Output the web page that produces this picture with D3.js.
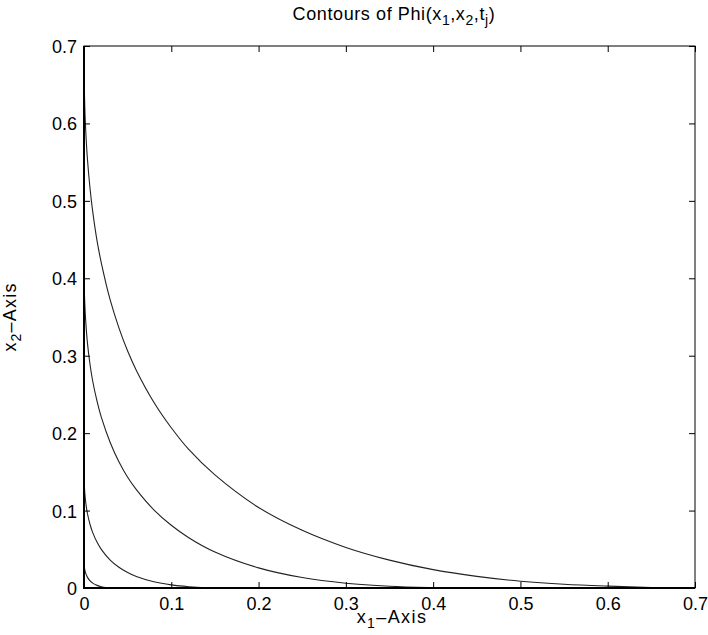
<!DOCTYPE html>
<html><head><meta charset="utf-8">
<script src="https://cdn.jsdelivr.net/npm/d3@7"></script>
<style>body{margin:0;background:#fff}svg{display:block}text{font-family:"Liberation Sans",Arial,sans-serif;fill:#000}</style>
</head><body>
<svg id="c" width="708" height="635"></svg>
<script>
// Tick values
const xTicks = [0, 0.1, 0.2, 0.3, 0.4, 0.5, 0.6, 0.7];
const yTicks = [0, 0.1, 0.2, 0.3, 0.4, 0.5, 0.6, 0.7];
// Contour lines, [x1, x2] pairs (outermost first)
const contour1 = [[0,0.700],[0.0001,0.670],[0.0005,0.640],[0.001,0.618],[0.002,0.590],[0.004,0.553],[0.007,0.515],[0.010,0.486],[0.015,0.448],[0.020,0.419],[0.030,0.372],[0.040,0.336],[0.050,0.306],[0.060,0.281],[0.080,0.240],[0.100,0.207],[0.120,0.179],[0.150,0.146],[0.200,0.104],[0.250,0.0745],[0.300,0.0524],[0.350,0.0360],[0.400,0.0237],[0.450,0.0150],[0.500,0.0088],[0.550,0.0048],[0.600,0.0024],[0.650,0.0007],[0.700,0]];
const contour2 = [[0,0.426],[0.0001,0.403],[0.0005,0.380],[0.001,0.365],[0.002,0.344],[0.004,0.316],[0.007,0.288],[0.010,0.267],[0.015,0.241],[0.020,0.220],[0.030,0.188],[0.040,0.163],[0.050,0.143],[0.060,0.127],[0.080,0.101],[0.100,0.081],[0.120,0.065],[0.150,0.0465],[0.200,0.0260],[0.250,0.0135],[0.300,0.0062],[0.350,0.0023],[0.400,0.0005],[0.426,0]];
const contour3 = [[0,0.156],[0.00005,0.1465],[0.0002,0.1386],[0.0005,0.1303],[0.001,0.1216],[0.002,0.1103],[0.004,0.0959],[0.007,0.0817],[0.010,0.0715],[0.015,0.0590],[0.020,0.0496],[0.030,0.0361],[0.040,0.0268],[0.050,0.0200],[0.060,0.0148],[0.080,0.0080],[0.100,0.0040],[0.120,0.0017],[0.140,0.0004],[0.156,0]];
const contour4 = [[0,0.038],[0.00002,0.0351],[0.0001,0.0322],[0.0005,0.0268],[0.001,0.0232],[0.002,0.0188],[0.004,0.0137],[0.007,0.0091],[0.010,0.0063],[0.015,0.0034],[0.020,0.0017],[0.025,0.0007],[0.030,0.0002],[0.038,0]];
const contours = [contour1, contour2, contour3, contour4];

const L = 84, R = 695, T = 46, B = 588;
const svg = d3.select("#c");
const x = d3.scaleLinear().domain([0, 0.7]).range([L, R]);
const y = d3.scaleLinear().domain([0, 0.7]).range([B, T]);

svg.append("clipPath").attr("id","pc").append("rect")
  .attr("x", L).attr("y", T).attr("width", R-L).attr("height", B-T);

const line = d3.line().x(d => x(d[0])).y(d => y(d[1])).curve(d3.curveCatmullRom.alpha(0.5));
svg.append("g").attr("clip-path","url(#pc)").selectAll("path").data(contours).join("path")
  .attr("d", line).attr("fill","none").attr("stroke","#222").attr("stroke-width",1.1);

// axes with inward ticks
const fmt = d => d === 0 ? "0" : d3.format(".1f")(d);
const tl = 6;
const gB = svg.append("g").attr("transform",`translate(0,${B})`)
  .call(d3.axisBottom(x).tickValues(xTicks).tickSizeInner(-tl).tickSizeOuter(0).tickPadding(10).tickFormat(fmt));
const gT = svg.append("g").attr("transform",`translate(0,${T})`)
  .call(d3.axisTop(x).tickValues(xTicks).tickSizeInner(-tl).tickSizeOuter(0).tickFormat(""));
const gL = svg.append("g").attr("transform",`translate(${L},0)`)
  .call(d3.axisLeft(y).tickValues(yTicks).tickSizeInner(-tl).tickSizeOuter(0).tickPadding(7).tickFormat(fmt));
const gR = svg.append("g").attr("transform",`translate(${R},0)`)
  .call(d3.axisRight(y).tickValues(yTicks).tickSizeInner(-tl).tickSizeOuter(0).tickFormat(""));
[gB,gT,gL,gR].forEach(g => {
  g.select(".domain").remove();
  g.selectAll("line").attr("stroke","#000");
  g.selectAll("text").attr("font-size", 18).attr("fill","#000")
    .style("font-family", '"Liberation Sans",Arial,sans-serif');
});
gB.selectAll("text").attr("dy", null).attr("y", 22);
gL.selectAll("text").attr("dy", "0.36em");

// box
svg.append("rect").attr("x",L).attr("y",T).attr("width",R-L).attr("height",B-T)
  .attr("fill","none").attr("stroke","#000").attr("stroke-width",1);
svg.append("path").attr("d",`M${L},${T}V${B}H${R}`).attr("fill","none").attr("stroke","#000").attr("stroke-width",2);

function label(sel, parts) {
  parts.forEach(([t, sub]) => {
    if (sub) sel.append("tspan").attr("dy",5).attr("font-size",14).text(t);
    else sel.append("tspan").attr("dy", sel.selectAll("tspan").size() ? -5 : 0).text(t);
  });
}
// title
const title = svg.append("text").attr("x", 394).attr("y", 25).attr("text-anchor","middle")
  .attr("font-size",18).attr("letter-spacing","0.6px");
label(title, [["Contours of Phi(x"],["1",1],[",x"],["2",1],[",t"],["j",1],[")"]]);

// x label
const xl = svg.append("text").attr("x", 392).attr("y", 628).attr("text-anchor","middle")
  .attr("font-size",18).attr("letter-spacing","1.4px");
label(xl, [["x"],["1",1],["\u2013Axis"]]);

// y label
const yl = svg.append("text").attr("transform","translate(21,317) rotate(-90)").attr("text-anchor","middle")
  .attr("font-size",18).attr("letter-spacing","1.2px");
label(yl, [["x"],["2",1],["\u2013Axis"]]);
</script>
</body></html>
